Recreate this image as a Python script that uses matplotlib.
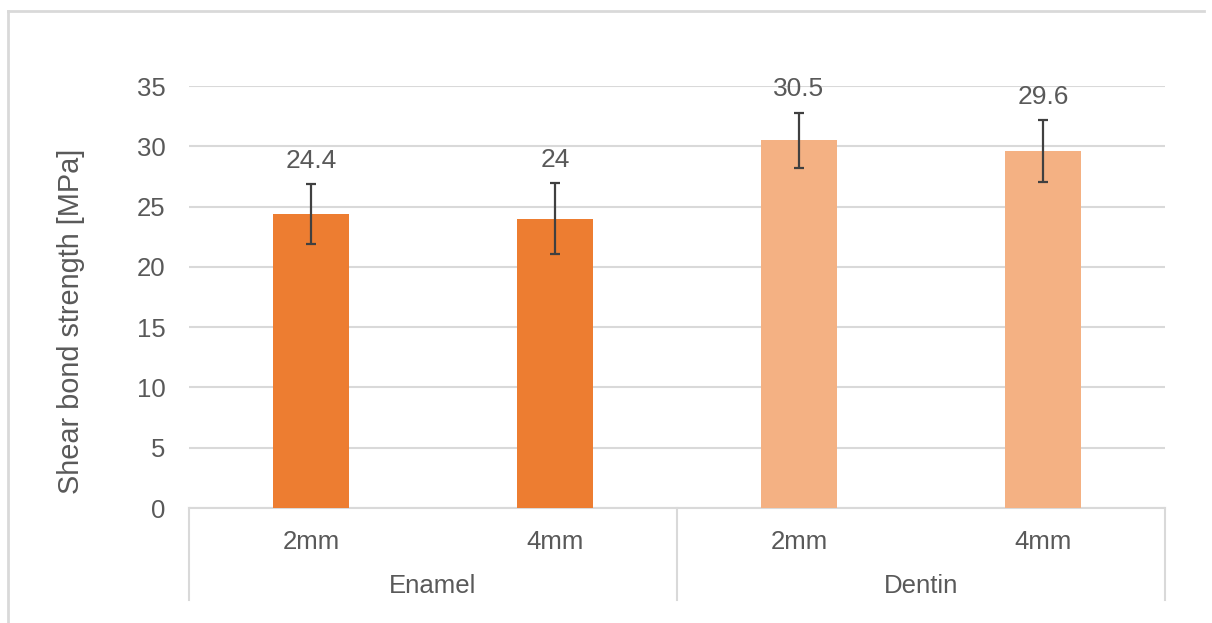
import numpy as np
import matplotlib
matplotlib.use("Agg")
import matplotlib.pyplot as plt
from matplotlib.lines import Line2D

# data
groups = ["Enamel", "Dentin"]
thickness = ["2mm", "4mm", "2mm", "4mm"]
strength = [24.4, 24.0, 30.5, 29.6]
errors = [2.5, 2.95, 2.3, 2.55]
labels = ["24.4", "24", "30.5", "29.6"]
colors = ["#ED7D31", "#ED7D31", "#F4B183", "#F4B183"]

plt.rcParams["font.family"] = ["Liberation Sans", "DejaVu Sans"]
txt = "#595959"
grid = "#D9D9D9"
fs = 18.5

fig = plt.figure(figsize=(12.12, 6.23), dpi=100)
ax = fig.add_axes([189 / 1212, 1 - 508 / 623, 976 / 1212, 422 / 623])

x = np.arange(len(strength))
ax.bar(x, strength, width=0.31, color=colors, zorder=3)
ax.errorbar(x, strength, yerr=errors, fmt="none", ecolor="#404040",
            elinewidth=1.6, capsize=3.5, capthick=1.6, zorder=4)

# value labels above the error bars
for xi, v, e, lab in zip(x, strength, errors, labels):
    ax.annotate(lab, (xi, v + e), xytext=(0, 8), textcoords="offset points",
                ha="center", va="bottom", fontsize=19, color=txt)

ax.set_xlim(-0.5, 3.5)
ax.set_ylim(0, 35)
ax.set_yticks(np.arange(0, 36, 5))
ax.yaxis.grid(True, color=grid, linewidth=1.5, zorder=0)
ax.set_axisbelow(True)
for s in ["top", "right", "left"]:
    ax.spines[s].set_visible(False)
ax.spines["bottom"].set_color(grid)
ax.spines["bottom"].set_linewidth(1.5)
ax.tick_params(axis="y", length=0, pad=17, labelsize=fs, labelcolor=txt)
ax.tick_params(axis="x", length=0, pad=16, labelsize=fs, labelcolor=txt)
ax.set_xticks(x)
ax.set_xticklabels(thickness)
ax.set_ylabel("Shear bond strength [MPa]", fontsize=20.8, color=txt)
ax.yaxis.set_label_coords(-0.107, 0.442)

# group separators and group labels below the axis
tr = ax.get_xaxis_transform()
for xs in [-0.5, 1.5, 3.5]:
    ax.add_line(Line2D([xs, xs], [0, -0.218], transform=tr, color=grid,
                       linewidth=1.5, clip_on=False))
for i, g in enumerate(groups):
    ax.text(2 * i + 0.5, -0.185, g, transform=tr, ha="center", va="center",
            fontsize=fs, color=txt)

# light chart frame
fig.add_artist(Line2D([8 / 1212, 1204 / 1212], [1 - 11 / 623] * 2,
                      color="#D9D9D9", linewidth=2))
fig.add_artist(Line2D([8 / 1212] * 2, [1 - 11 / 623, 0],
                      color="#D9D9D9", linewidth=2))

fig.savefig("out.png", dpi=100)
